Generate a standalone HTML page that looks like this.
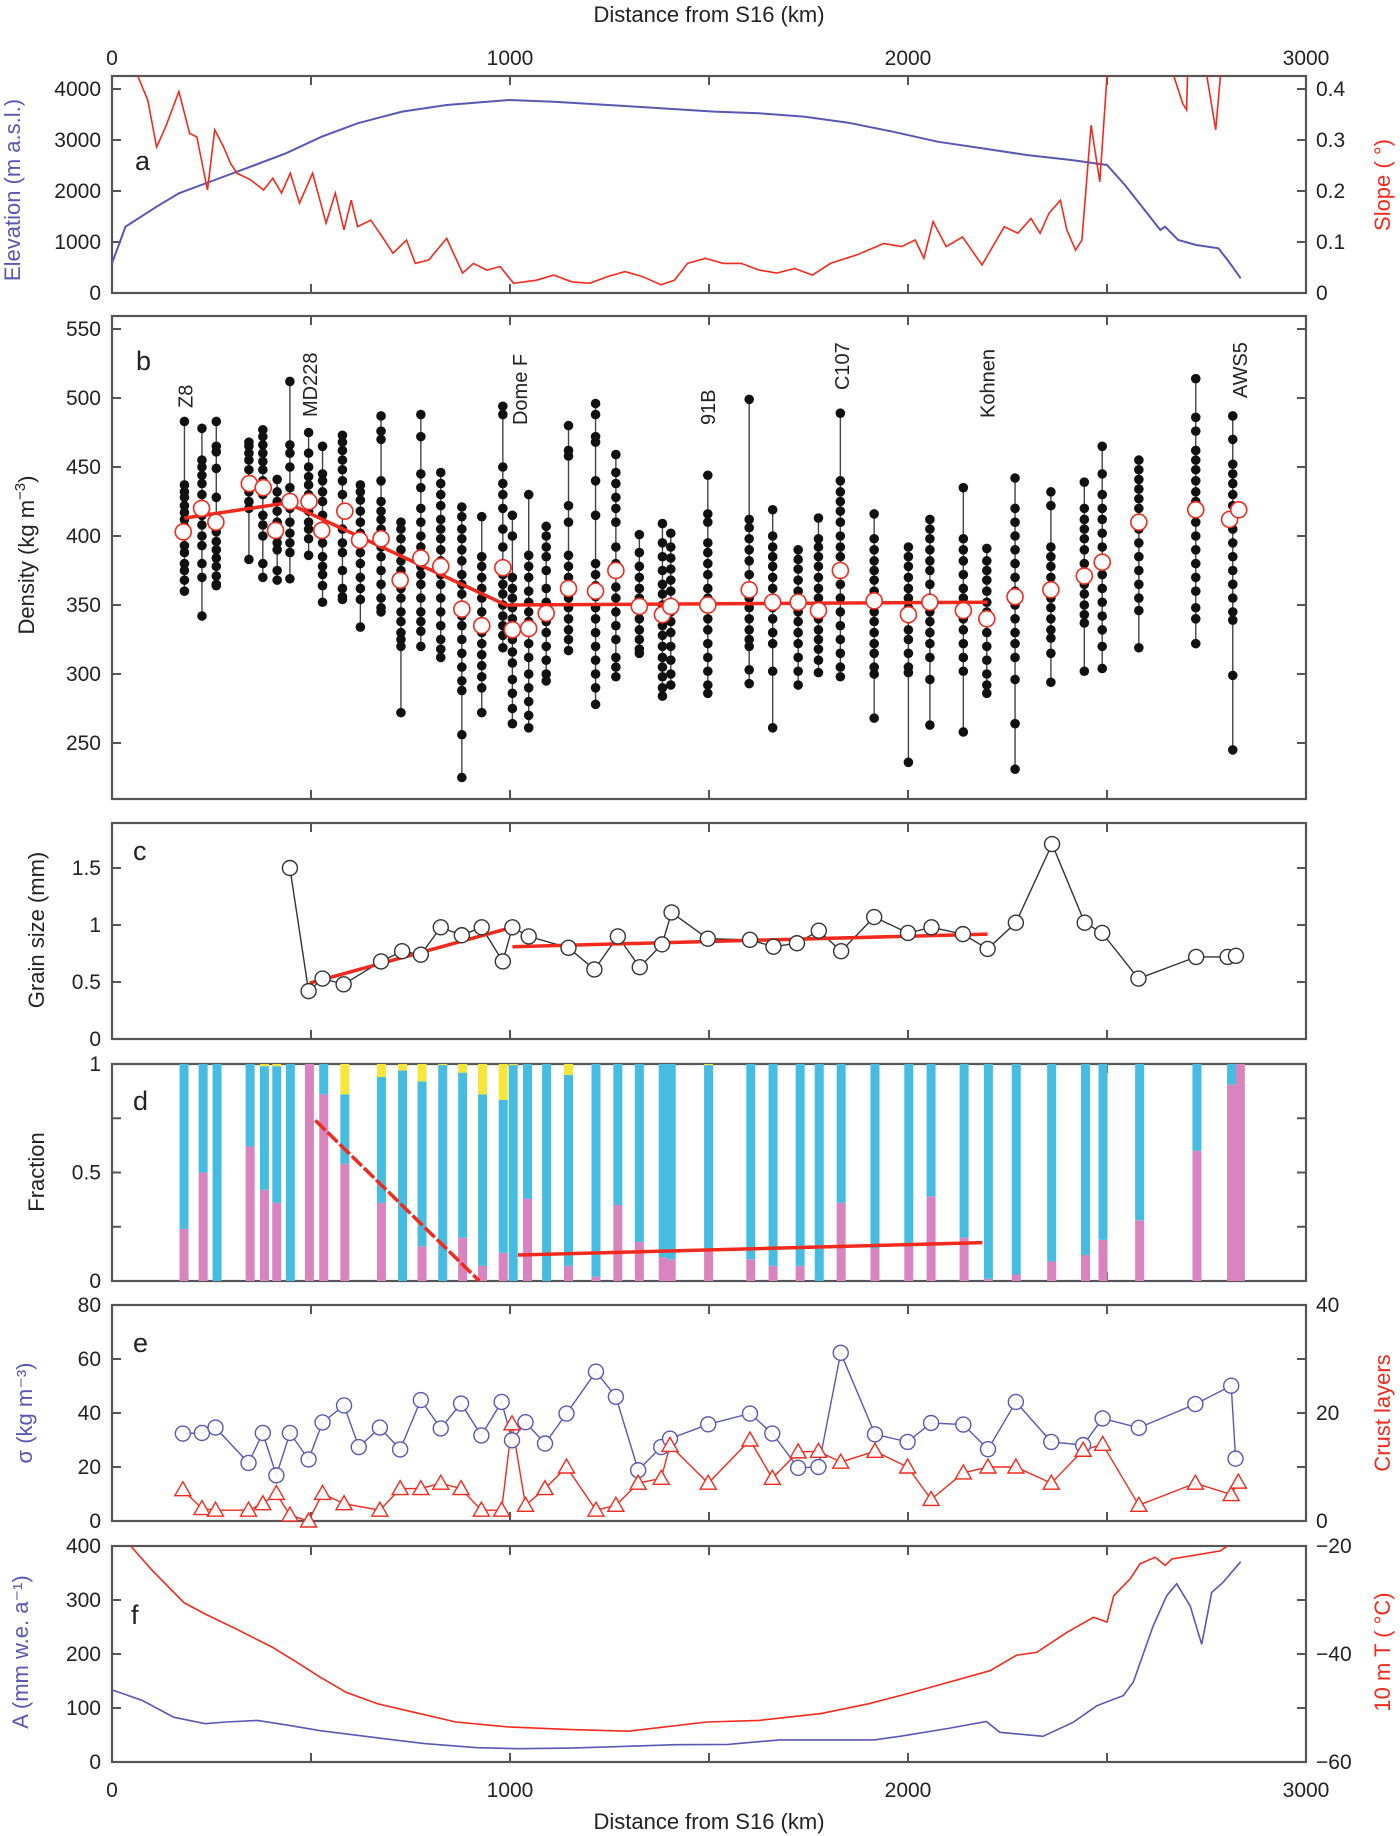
<!DOCTYPE html>
<html><head><meta charset="utf-8"><title>Traverse profiles</title>
<style>
html,body{margin:0;padding:0;background:#fff;}
svg{display:block;font-family:"Liberation Sans",sans-serif;}
</style></head>
<body>
<svg id="fig" width="1400" height="1836" viewBox="0 0 1400 1836" xmlns="http://www.w3.org/2000/svg"></svg>
<script>
// ---------- DATA ----------
const elevKm=[0,34,112,168,258,348,437,527,617,729,841,998,1110,1289,1513,1626,1738,1850,1962,2074,2186,2298,2410,2500,2545,2601,2634,2646,2679,2724,2780,2803,2836];
const elevVal=[582,1300,1693,1955,2216,2477,2739,3065,3327,3556,3686,3784,3751,3667,3556,3523,3458,3340,3163,2967,2837,2706,2608,2510,2118,1562,1235,1300,1039,941,876,647,288];
const slopeKm=[50,65,90,112,135,168,195,213,240,258,280,298,314,348,381,404,426,448,471,504,538,561,583,601,617,650,673,706,740,762,796,841,881,908,942,975,1009,1065,1110,1155,1200,1244,1289,1334,1379,1413,1446,1491,1536,1581,1626,1670,1715,1760,1805,1872,1939,1984,2018,2040,2063,2096,2137,2186,2242,2276,2309,2332,2354,2383,2399,2421,2437,2460,2482,2500,2520];
const slopeVal=[0.5,0.425,0.378,0.286,0.326,0.395,0.313,0.306,0.202,0.32,0.287,0.254,0.235,0.222,0.202,0.225,0.196,0.235,0.176,0.235,0.137,0.196,0.124,0.182,0.13,0.143,0.117,0.078,0.104,0.058,0.065,0.107,0.039,0.058,0.045,0.052,0.019,0.025,0.035,0.022,0.019,0.032,0.042,0.032,0.016,0.025,0.058,0.068,0.058,0.058,0.045,0.039,0.048,0.035,0.058,0.075,0.097,0.091,0.104,0.068,0.14,0.091,0.11,0.055,0.13,0.117,0.146,0.117,0.156,0.182,0.124,0.084,0.104,0.329,0.218,0.425,0.6];
const slope2Km=[2660,2668,2690,2700,2708,2745,2751,2773,2785,2790];
const slope2Val=[0.6,0.425,0.372,0.359,0.6,0.6,0.425,0.32,0.425,0.6];
const stKm=[182,226,262,344,379,415,447,494,529,579,624,676,726,776,826,879,929,982,1006,1047,1091,1147,1215,1266,1325,1383,1404,1497,1601,1660,1724,1775,1830,1915,2001,2055,2139,2198,2269,2359,2443,2488,2580,2723,2816];
const stSamples=[
[483,437,432,428,422,417,412,407,400,393,388,380,375,368,360],
[478,455,450,444,438,430,422,415,408,400,393,380,370,342],
[483,465,461,449,428,410,403,396,390,384,378,371,365,364],
[468,465,460,455,448,440,432,425,420,383],
[477,472,466,460,454,448,440,430,415,408,400,380,370],
[441,432,425,418,410,400,395,390,375,368],
[512,466,460,450,435,428,420,410,402,395,388,369],
[475,460,450,443,437,430,424,418,410,405,398,386],
[465,445,440,432,425,415,405,395,385,378,372,364,352],
[473,468,462,455,448,440,430,418,405,395,388,375,362,356,354],
[437,432,426,418,410,402,395,388,380,370,362,354,334],
[487,476,470,440,425,418,412,405,398,392,385,375,365,355,348,345],
[410,405,398,390,382,375,368,362,355,345,338,330,325,320,272],
[488,472,445,435,420,410,400,392,385,378,372,365,355,345,338,331,320],
[446,438,430,422,412,405,398,390,382,372,365,355,345,335,325,318,312],
[421,414,405,398,390,382,372,365,358,350,342,335,325,315,305,295,288,256,225],
[414,385,378,370,362,355,345,338,330,322,314,306,298,290,272],
[494,488,450,438,430,420,405,392,380,372,365,358,350,342,335,328,319],
[415,400,370,362,355,348,340,332,325,316,308,296,286,275,264],
[430,386,378,370,360,352,345,338,330,322,312,300,290,280,270,261],
[407,400,392,385,375,362,352,345,338,330,320,310,300,295],
[480,462,458,422,410,386,378,370,362,355,348,340,332,325,317],
[496,488,472,468,440,415,380,372,364,356,348,340,330,320,310,300,290,278],
[459,446,438,428,420,410,392,380,363,355,345,335,325,312,305,298],
[401,388,378,370,362,355,348,340,332,325,318,315],
[409,395,385,375,365,358,350,342,335,328,320,312,305,298,290,284],
[402,392,384,376,368,360,352,345,338,330,320,310,300,292],
[444,416,410,395,388,380,372,362,355,348,340,332,322,312,302,292,286],
[499,412,406,398,390,382,372,362,355,348,340,332,325,320,303,293],
[419,400,392,385,378,370,362,355,348,340,330,322,302,261],
[390,383,376,368,360,352,345,338,330,322,312,302,292],
[413,398,392,385,378,370,362,355,348,340,332,325,318,310,301],
[489,440,432,425,418,410,400,392,385,375,365,355,345,335,325,315,305,298],
[416,398,390,382,375,368,360,352,345,338,330,322,315,305,300,268],
[392,385,378,370,362,355,348,340,332,325,315,305,301,236],
[412,405,398,390,382,375,365,355,345,338,330,322,312,296,263],
[435,398,390,382,372,362,355,348,340,332,322,312,302,258],
[391,382,375,368,360,352,345,338,330,320,310,300,292,286],
[442,420,410,400,390,380,370,360,350,340,330,322,312,296,264,231],
[432,422,392,385,378,370,362,355,348,340,332,326,315,294],
[439,420,412,405,398,390,380,372,365,358,350,343,337,302],
[465,445,430,420,412,402,392,382,372,362,352,342,332,320,304],
[455,448,441,434,427,420,412,405,395,385,375,365,355,346,319],
[514,486,476,462,455,448,440,432,425,418,410,400,390,380,370,360,348,340,322],
[487,470,452,445,438,430,422,415,405,395,385,375,365,355,345,339,299,245]];
const meanKm=[179,225,261,345,380,411,447,495,527,585,622,676,724,776,826,879,929,982,1006,1047,1091,1147,1215,1266,1325,1383,1404,1497,1601,1660,1724,1775,1830,1915,2001,2055,2139,2198,2269,2359,2443,2488,2580,2723,2808,2831];
const meanVal=[403,420,410,438,435,404,425,425,404,418,397,398,368,384,378,347,335,377,332,333,344,362,360,375,349,343,349,350,361,352,352,346,375,353,343,352,346,340,356,361,371,381,410,419,412,419];
const densFitKm=[182,440,990,2200];
const densFitVal=[413,424,350,352];
const stationNames=["Z8","MD228","Dome F","91B","C107","Kohnen","AWS5"];
const stationNameKm=[185,498,1025,1497,1834,2200,2834];
const stationNameBottom=[408,417,425,425,390,418,398];
const grainKm=[447,494,529,582,676,729,776,826,879,929,982,1006,1047,1147,1212,1271,1326,1382,1406,1497,1603,1662,1721,1776,1832,1915,2000,2059,2138,2200,2271,2362,2444,2488,2579,2724,2803,2824];
const grainVal=[1.5,0.42,0.53,0.48,0.68,0.77,0.74,0.98,0.91,0.98,0.68,0.98,0.9,0.8,0.61,0.9,0.63,0.83,1.11,0.88,0.87,0.81,0.84,0.95,0.77,1.07,0.93,0.98,0.92,0.79,1.02,1.71,1.02,0.93,0.53,0.72,0.72,0.73];
const grainFit1Km=[497,1006], grainFit1Val=[0.49,0.98];
const grainFit2Km=[1006,2200], grainFit2Val=[0.81,0.92];
const fracKm=[181,229,264,347,383,414,448,496,532,585,677,730,779,831,881,931,983,1008,1044,1092,1147,1216,1271,1325,1385,1405,1499,1605,1661,1729,1777,1832,1917,2002,2058,2141,2202,2272,2361,2446,2490,2582,2726,2813,2835];
const fracPink=[0.24,0.5,0,0.62,0.42,0.36,0,1,0.86,0.54,0.36,0,0.16,0,0.2,0.07,0.13,0,0.38,0,0.07,0.02,0.35,0.18,0.11,0.1,0.15,0.1,0.07,0.07,0,0.36,0.15,0.16,0.39,0.2,0.01,0.03,0.09,0.12,0.19,0.28,0.6,0.905,1];
const fracBlue=[0.76,0.5,1,0.38,0.57,0.63,1,0,0.14,0.32,0.58,0.97,0.76,0.995,0.76,0.79,0.705,0.995,0.62,1,0.88,0.98,0.65,0.82,0.89,0.9,0.845,0.9,0.93,0.93,1,0.64,0.85,0.84,0.61,0.8,0.99,0.97,0.91,0.88,0.81,0.72,0.4,0.095,0];
const fracFit1Km=[511,923], fracFit1Val=[0.74,0];
const fracFit2Km=[1020,2187], fracFit2Val=[0.12,0.177];
const sigKm=[178,226,260,343,379,413,447,494,529,583,620,673,724,776,826,877,928,979,1005,1039,1088,1142,1216,1266,1322,1380,1402,1498,1603,1659,1724,1775,1831,1917,1999,2058,2139,2201,2271,2360,2440,2489,2580,2722,2812,2823];
const sigVal=[32.4,32.6,34.6,21.5,32.6,16.9,32.6,22.8,36.5,42.8,27.4,34.6,26.5,44.8,34.3,43.5,31.7,44.1,29.9,36.6,28.7,39.8,55.3,46,18.8,27.4,30.5,35.8,39.8,32.4,19.7,20,62.3,32.1,29.3,36.3,35.7,26.6,44.1,29.3,28.1,38,34.5,43.3,50.1,23.1];
const crustKm=[178,226,260,343,379,413,447,494,529,583,673,724,776,826,877,928,979,1005,1039,1088,1142,1216,1266,1322,1380,1402,1498,1603,1659,1724,1775,1831,1917,1999,2058,2139,2201,2271,2360,2440,2489,2580,2722,2812,2830];
const crustVal=[5.8,2.3,2,2,3.2,5.1,1.1,0,5.1,3.2,2,6,6,7,6,2,2,18,2.9,6,10,2,2.9,7,7.9,14,7,15,7.9,12.8,12.9,10.9,12.9,10,4,8.9,10,10,7,13.1,14.2,2.9,7,4.9,7.2];
const accKm=[0,76,155,234,286,365,444,523,654,785,917,1022,1153,1284,1416,1547,1678,1810,1915,1980,2100,2197,2231,2339,2415,2474,2541,2566,2616,2650,2675,2709,2738,2763,2792,2836];
const accVal=[133.5,114,83,71,74,77,68,58,46,34,26.5,24.6,25.8,28.9,32,32.6,41,41,41,47.6,62,75,55,47.6,73.5,104,123,148,252,308,330,289,218,314,333,371];
const tempKm=[20,47,102,181,234,313,404,470,523,588,667,759,864,995,1153,1297,1389,1494,1626,1783,1902,1980,2055,2206,2273,2323,2399,2466,2500,2517,2558,2583,2621,2646,2663,2785,2802,2820];
const tempVal=[-17,-20,-24.6,-30.5,-32.6,-35.4,-38.8,-41.8,-44.3,-47.1,-49.2,-50.8,-52.6,-53.5,-54,-54.3,-53.5,-52.6,-52.3,-51,-49.2,-47.7,-46.2,-43.1,-40.2,-39.7,-36,-33.2,-34.1,-29.2,-26.1,-23.3,-22.1,-23.6,-22.4,-20.9,-20,-18];
const xTicks=[0,500,1000,1500,2000,2500,3000];
const xTickLabels=["0","1000","2000","3000"];

// ---------- HELPERS ----------
const NS="http://www.w3.org/2000/svg";
const svg=document.getElementById('fig');
const X0=112, X1=1306;
function xs(km){return X0+km*(X1-X0)/3000;}
function el(tag,attrs,parent){const e=document.createElementNS(NS,tag);for(const k in attrs)e.setAttribute(k,attrs[k]);(parent||svg).appendChild(e);return e;}
function txt(s,attrs,parent){const e=el('text',attrs,parent);e.textContent=s;return e;}
function pathD(kms,vals,yf){let d='';for(let i=0;i<kms.length;i++){d+=(i?'L':'M')+xs(kms[i]).toFixed(1)+','+yf(vals[i]).toFixed(1);}return d;}
const P={a:[76,293],b:[316,799],c:[823,1039],d:[1064,1281],e:[1305,1521],f:[1546,1762]};
const yA=v=>293-v/4000*204, yS=v=>293-v/0.4*204;
const yB=v=>329+(550-v)*1.38;
const yC=v=>1039-v*114;
const yD=v=>1281-v*217;
const yE=v=>1521-v/80*216, yCr=v=>1521-v/40*216;
const yF=v=>1762-v/400*216, yT=v=>1762-(v+60)/40*216;
const RED="#f22a1e", BLUE="#5858b4", GREY="#555";

const defs=el('defs',{});
for(const k in P){const c=el('clipPath',{id:'clip-'+k},defs);el('rect',{x:X0,y:P[k][0],width:X1-X0,height:P[k][1]-P[k][0]},c);}

function frame(key,name){
  const [t,b]=P[key];
  const g=el('g',{});
  
  
  for(const k of xTicks){
    const x=xs(k);
    el('line',{x1:x,y1:t,x2:x,y2:t+9,stroke:GREY,'stroke-width':2},g);
    el('line',{x1:x,y1:b,x2:x,y2:b-9,stroke:GREY,'stroke-width':2},g);
  }
  return g;
}
function yTicks(g,vals,yf,labels,side){
  vals.forEach((v,i)=>{
    const y=yf(v);
    if(side==='L'){el('line',{x1:X0,y1:y,x2:X0+9,y2:y,stroke:GREY,'stroke-width':2},g);}
    else {el('line',{x1:X1,y1:y,x2:X1-9,y2:y,stroke:GREY,'stroke-width':2},g);}
    if(labels&&labels[i]!==''){
      if(side==='L')txt(labels[i],{x:101,y:y+7,'text-anchor':'end','font-size':21,fill:'#222'},g);
      else txt(labels[i],{x:1316,y:y+7,'text-anchor':'start','font-size':21,fill:'#222'},g);
    }
  });
}
function border(g,key){const [t,b]=P[key];el('rect',{x:X0,y:t,width:X1-X0,height:b-t,fill:'none',stroke:GREY,'stroke-width':2.2},g);}
function ytitle(s,x,y,color,name){const t=txt(s,{x:x,y:y,transform:`rotate(-90 ${x} ${y})`,'text-anchor':'middle','font-size':22,fill:color});return t;}
function letter(s,x,y){const t=txt(s,{x:x,y:y,'font-size':27,fill:'#222'});}

const tt=txt('Distance from S16 (km)',{x:709,y:22,'text-anchor':'middle','font-size':22,fill:'#222'});


const bt=txt('Distance from S16 (km)',{x:709,y:1829,'text-anchor':'middle','font-size':22,fill:'#222'});


xTickLabels.forEach((s,i)=>{
  const a=txt(s,{x:xs(i*1000),y:65,'text-anchor':'middle','font-size':21,fill:'#222'});
  
  
  const b=txt(s,{x:xs(i*1000),y:1797,'text-anchor':'middle','font-size':21,fill:'#222'});
  
  
});

// ---------- PANEL A ----------
{
  const g=frame('a','panel-a');
  yTicks(g,[0,1000,2000,3000,4000],yA,['0','1000','2000','3000','4000'],'L');
  yTicks(g,[0,0.1,0.2,0.3,0.4],yS,['0','0.1','0.2','0.3','0.4'],'R');
  const e=el('path',{d:pathD(elevKm,elevVal,yA),fill:'none',stroke:BLUE,'stroke-width':2,'clip-path':'url(#clip-a)'});
  
  
  const s=el('path',{d:pathD(slopeKm,slopeVal,yS),fill:'none',stroke:RED,'stroke-width':1.6,'clip-path':'url(#clip-a)'});
  
  
  const s2=el('path',{d:pathD(slope2Km,slope2Val,yS),fill:'none',stroke:RED,'stroke-width':1.6,'clip-path':'url(#clip-a)'});
  
  
  border(g,'a');
  letter('a',135,170);
  ytitle('Elevation (m a.s.l.)',20,190,BLUE,'elevation-axis-title');
  ytitle('Slope ( °)',1390,185,RED,'slope-axis-title');
}
// ---------- PANEL B ----------
{
  const g=frame('b','panel-b');
  const bt=[250,300,350,400,450,500,550];
  yTicks(g,bt,yB,bt.map(String),'L');
  yTicks(g,bt,yB,null,'R');
  border(g,'b');
  stKm.forEach((km,i)=>{
    const sg=el('g',{});
    
    
    const vals=stSamples[i];
    const mx=Math.max(...vals), mn=Math.min(...vals);
    el('line',{x1:xs(km),x2:xs(km),y1:yB(mx),y2:yB(mn),stroke:'#444','stroke-width':1.4},sg);
    vals.forEach(v=>{el('circle',{cx:xs(km),cy:yB(v),r:4.8,fill:'#111'},sg);});
  });
  const f=el('path',{d:pathD(densFitKm,densFitVal,yB),fill:'none',stroke:RED,'stroke-width':3.5});
  
  
  meanKm.forEach((km,i)=>{
    const c=el('circle',{cx:xs(km),cy:yB(meanVal[i]),r:8,fill:'#fff',stroke:RED,'stroke-width':1.6});
    
    
  });
  stationNames.forEach((n,i)=>{
    const x=xs(stationNameKm[i])+7, y=stationNameBottom[i];
    const t=txt(n,{x:x,y:y,transform:`rotate(-90 ${x} ${y})`,'font-size':20,fill:'#222'});
    
    
  });
  letter('b',136,370);
  const dt=el('text',{x:34,y:555,transform:'rotate(-90 34 555)','text-anchor':'middle','font-size':22,fill:'#222'});
  
  
  const t1=el('tspan',{},dt); t1.textContent='Density (kg m';
  const t2=el('tspan',{dy:-9,'font-size':15},dt); t2.textContent='−3';
  const t3=el('tspan',{dy:9},dt); t3.textContent=')';
}
// ---------- PANEL C ----------
{
  const g=frame('c','panel-c');
  yTicks(g,[0,0.5,1,1.5],yC,['0','0.5','1','1.5'],'L');
  yTicks(g,[0,0.5,1,1.5],yC,null,'R');
  border(g,'c');
  const l=el('path',{d:pathD(grainKm,grainVal,yC),fill:'none',stroke:'#333','stroke-width':1.4});
  
  
  const f1=el('path',{d:pathD(grainFit1Km,grainFit1Val,yC),fill:'none',stroke:RED,'stroke-width':3.5});
  
  
  const f2=el('path',{d:pathD(grainFit2Km,grainFit2Val,yC),fill:'none',stroke:RED,'stroke-width':3.5});
  
  
  grainKm.forEach((km,i)=>{
    const c=el('circle',{cx:xs(km),cy:yC(grainVal[i]),r:7.5,fill:'#fff',stroke:'#333','stroke-width':1.4});
    
    
  });
  letter('c',133,860);
  ytitle('Grain size (mm)',44,930,'#222','grain-size-axis-title');
}
// ---------- PANEL D ----------
{
  const g=frame('d','panel-d');
  yTicks(g,[0,0.25,0.5,0.75,1],yD,['0','','0.5','','1'],'L');
  yTicks(g,[0,0.25,0.5,0.75,1],yD,null,'R');
  fracKm.forEach((km,i)=>{
    const x=xs(km)-4.5, p=fracPink[i], b=fracBlue[i];
    const r1=el('rect',{x:x,y:yD(p),width:9,height:yD(0)-yD(p),fill:'#d884bf'});
    
    
    const r2=el('rect',{x:x,y:yD(p+b),width:9,height:yD(p)-yD(p+b),fill:'#46bde0'});
    
    
    if(p+b<1){
      const r3=el('rect',{x:x,y:yD(1),width:9,height:yD(p+b)-yD(1),fill:'#f6e63a'});
      
      
    }
  });
  const f1=el('path',{d:pathD(fracFit1Km,fracFit1Val,yD),fill:'none',stroke:RED,'stroke-width':3.5,'stroke-dasharray':'14 3'});
  
  
  const f2=el('path',{d:pathD(fracFit2Km,fracFit2Val,yD),fill:'none',stroke:RED,'stroke-width':3.5});
  
  
  border(g,'d');
  letter('d',133,1110);
  ytitle('Fraction',44,1172,'#222','fraction-axis-title');
}
// ---------- PANEL E ----------
{
  const g=frame('e','panel-e');
  yTicks(g,[0,20,40,60,80],yE,['0','20','40','60','80'],'L');
  yTicks(g,[0,10,20,30,40],yCr,['0','','20','','40'],'R');
  border(g,'e');
  const l=el('path',{d:pathD(sigKm,sigVal,yE),fill:'none',stroke:BLUE,'stroke-width':1.4});
  
  
  const l2=el('path',{d:pathD(crustKm,crustVal,yCr),fill:'none',stroke:RED,'stroke-width':1.4});
  
  
  sigKm.forEach((km,i)=>{
    const c=el('circle',{cx:xs(km),cy:yE(sigVal[i]),r:7.5,fill:'#fff','fill-opacity':0.9,stroke:BLUE,'stroke-width':1.4});
    
    
  });
  crustKm.forEach((km,i)=>{
    const x=xs(km), y=yCr(crustVal[i]);
    const t=el('polygon',{points:`${x},${y-8} ${x-8},${y+6} ${x+8},${y+6}`,fill:'#fff','fill-opacity':0.9,stroke:RED,'stroke-width':1.4});
    
    
  });
  letter('e',133,1352);
  ytitle('σ (kg m⁻³)',32,1413,BLUE,'sigma-axis-title');
  ytitle('Crust layers',1390,1413,RED,'crust-axis-title');
}
// ---------- PANEL F ----------
{
  const g=frame('f','panel-f');
  yTicks(g,[0,100,200,300,400],yF,['0','100','200','300','400'],'L');
  yTicks(g,[-60,-50,-40,-30,-20],yT,['−60','','−40','','−20'],'R');
  const l=el('path',{d:pathD(accKm,accVal,yF),fill:'none',stroke:BLUE,'stroke-width':1.6,'clip-path':'url(#clip-f)'});
  
  
  const l2=el('path',{d:pathD(tempKm,tempVal,yT),fill:'none',stroke:RED,'stroke-width':1.6,'clip-path':'url(#clip-f)'});
  
  
  border(g,'f');
  letter('f',131,1624);
  ytitle('A (mm w.e. a⁻¹)',28,1652,BLUE,'accumulation-axis-title');
  ytitle('10 m T ( °C)',1390,1652,RED,'temperature-axis-title');
}
</script>
</body></html>
